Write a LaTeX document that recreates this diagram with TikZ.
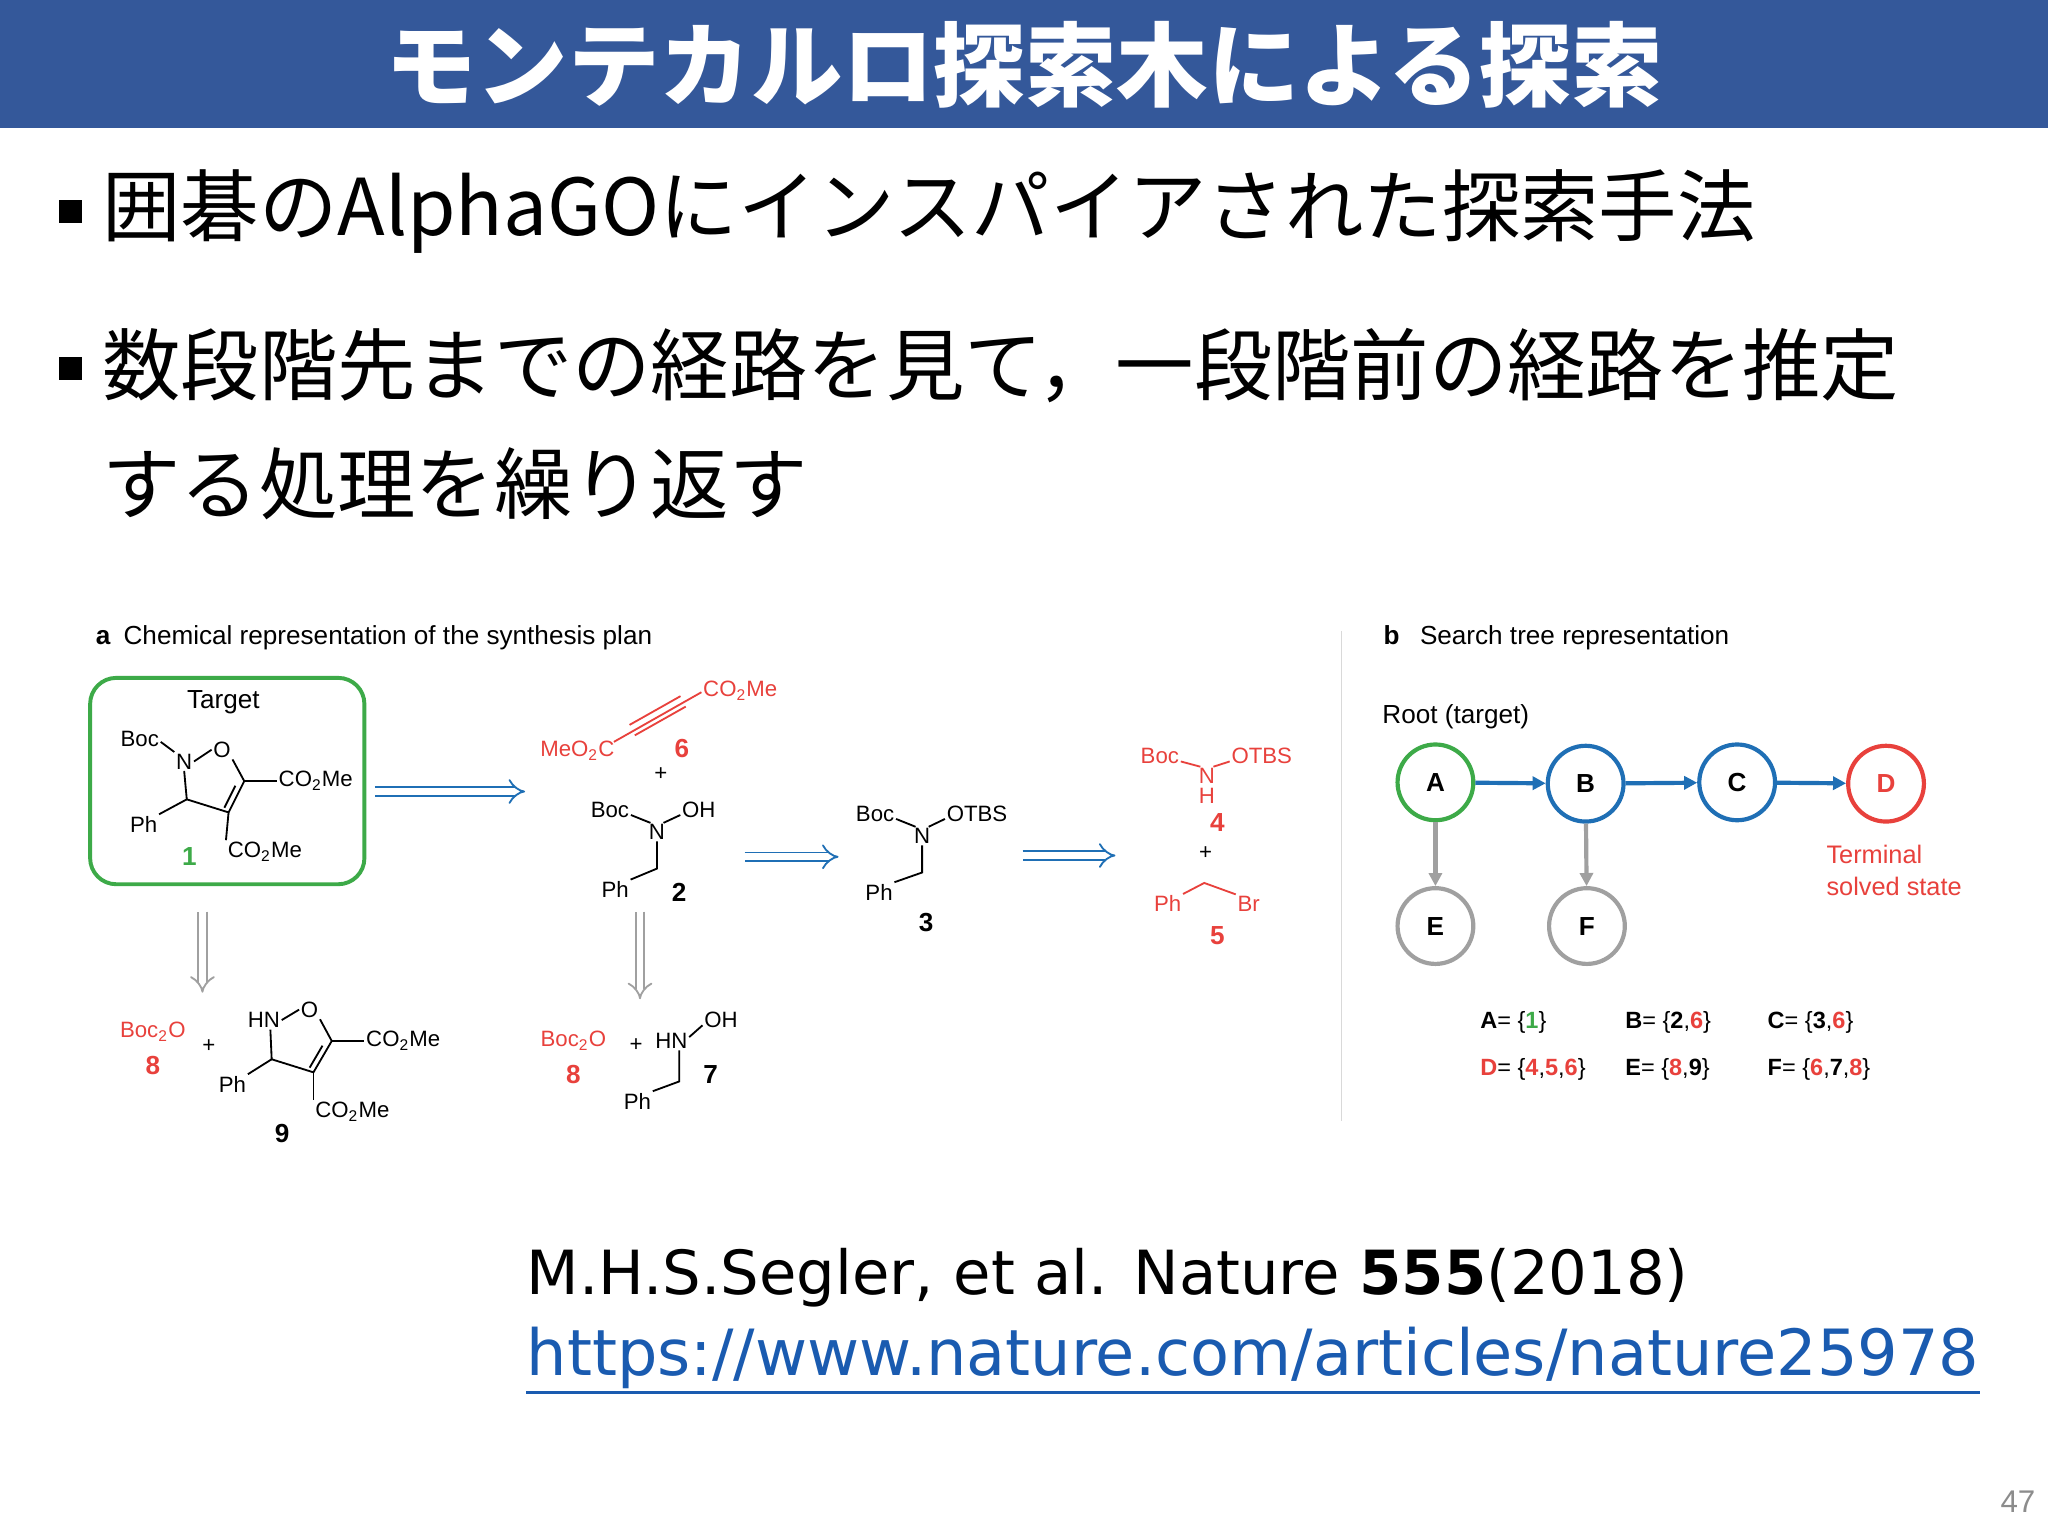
\documentclass[tikz,border=0pt]{standalone}
\usepackage{fontspec}
\setmainfont{Liberation Sans}
\newfontfamily\jp{Noto Sans CJK JP}
\newfontfamily\citefnt{DejaVu Sans}
\usetikzlibrary{arrows.meta,calc}
\definecolor{titleblue}{HTML}{34589A}
\definecolor{cred}{HTML}{E8413C}
\definecolor{cgreen}{HTML}{3DAA48}
\definecolor{cblue}{HTML}{1F6FB5}
\definecolor{cgray}{HTML}{A0A0A0}
\definecolor{urlblue}{HTML}{1A5BB0}
\tikzset{
  lbl/.style={inner sep=0.5pt, font=\fontsize{8.5}{9}\selectfont},
  biglbl/.style={inner sep=0pt, font=\fontsize{10}{11}\selectfont},
  num/.style={inner sep=0pt, font=\fontsize{10}{11}\selectfont\bfseries},
  bond/.style={line width=0.7pt},
  rbond/.style={line width=0.7pt, cred},
  retro/.style={double, double distance=2.6pt, line width=0.7pt, -{Implies[length=5pt]}},
  tnode/.style={circle, minimum size=29pt, line width=1.6pt, draw, font=\fontsize{10}{11}\selectfont\bfseries, inner sep=0pt},
  tarrow/.style={line width=1.6pt, -{Triangle[length=5pt,width=5pt]}},
  setlbl/.style={anchor=west, inner sep=0pt, font=\fontsize{9}{10}\selectfont},
  bullet/.style={anchor=west, inner sep=0pt, font=\jp\fontsize{30}{32}\selectfont},
  head/.style={anchor=west, inner sep=0pt, font=\fontsize{10}{11}\selectfont},
}
\begin{document}
\begin{tikzpicture}[x=0.5pt,y=-0.5pt]
\useasboundingbox (0,0) rectangle (1568,1176);
\fill[white] (0,0) rectangle (1568,1176);
% title
\fill[titleblue] (0,0) rectangle (1568,98);
\node[text=white, font=\jp\bfseries\fontsize{35}{37}\selectfont] (title) at (784,50) {モンテカルロ探索木による探索};
% bullets
\fill (45,153) rectangle (63,171);
\node[bullet] (b1) at (78,162) {囲碁のAlphaGOにインスパイアされた探索手法};
\fill (45,273) rectangle (63,291);
\node[bullet] (b2) at (78,280) {数段階先までの経路を見て，一段階前の経路を推定};
\node[bullet] (b3) at (78,370) {する処理を繰り返す};

% panel a
\node[head] (pa) at (73,488) {\textbf{a}\enspace Chemical representation of the synthesis plan};
\draw[cgreen, line width=1.5pt, rounded corners=10pt] (69,519) rectangle (279,677);
\node[biglbl] (tg) at (171,538) {Target};
% compound 1
\node[lbl] (boc1) at (107,566) {Boc};
\node[lbl] (n1) at (141,583) {N};
\node[lbl] (o1) at (170,574) {O};
\coordinate (c5a) at (187,598);
\coordinate (c4a) at (175,622);
\coordinate (c3a) at (143,612);
\draw[bond] (boc1.east) ++(0,2) -- (n1.north west);
\draw[bond] (n1.east) -- (o1.west);
\draw[bond] (o1.south east) -- (c5a) -- (c4a) -- (c3a) -- (n1.south);
\draw[bond] ($(c5a)!0.15!(c4a)+(-5,0)$) -- ($(c5a)!0.85!(c4a)+(-5,0)$);
\node[lbl, anchor=west] (e1) at (212,598) {CO\textsubscript{2}Me};
\draw[bond] (c5a) -- (e1.west);
\node[lbl, anchor=west] (e2) at (173,652) {CO\textsubscript{2}Me};
\draw[bond] (c4a) -- (e2.north west);
\node[lbl] (ph1) at (110,631) {Ph};
\draw[bond] (c3a) -- (ph1.north east);
\node[num, cgreen] (l1) at (145,656) {1};

% arrows
\coordinate (a1s) at (287,606); \coordinate (a1e) at (402,606);
\draw[retro, cblue] (a1s) -- (a1e);
\coordinate (a2s) at (570,656); \coordinate (a2e) at (642,656);
\draw[retro, cblue] (a2s) -- (a2e);
\coordinate (a3s) at (783,655); \coordinate (a3e) at (854,655);
\draw[retro, cblue] (a3s) -- (a3e);
\coordinate (g1s) at (155,698); \coordinate (g1e) at (155,760);
\draw[retro, cgray] (g1s) -- (g1e);
\coordinate (g2s) at (490,698); \coordinate (g2e) at (490,765);
\draw[retro, cgray] (g2s) -- (g2e);

% compound 6
\node[lbl, cred] (m6) at (442,575) {MeO\textsubscript{2}C};
\node[lbl, cred, anchor=west] (e6) at (537,529) {CO\textsubscript{2}Me};
\coordinate (t1) at (470,568); \coordinate (t2) at (484,559); \coordinate (t3) at (523,537); \coordinate (t4) at (537,530);
\draw[rbond] (t1) -- (t4);
\draw[rbond] ($(t2)+(-2,-4)$) -- ($(t3)+(-2,-4)$);
\draw[rbond] ($(t2)+(2,4)$) -- ($(t3)+(2,4)$);
\node[num, cred] (l6) at (522,573) {6};
\node[lbl] (p1) at (506,593) {+};
% compound 2
\node[lbl] (boc2) at (467,620) {Boc};
\node[lbl] (n2) at (503,637) {N};
\node[lbl] (oh2) at (535,620) {OH};
\draw[bond] ($(boc2.east)+(0,4)$) -- ($(n2.center)+(-5,-7)$);
\draw[bond] ($(n2.center)+(5,-7)$) -- ($(oh2.west)+(0,4)$);
\coordinate (ch2) at (503,665);
\node[lbl] (ph2) at (471,681) {Ph};
\draw[bond] (n2.south) -- (ch2) -- (ph2.north east);
\node[num] (l2) at (520,683) {2};
% compound 3
\node[lbl] (boc3) at (670,623) {Boc};
\node[lbl] (n3) at (706,640) {N};
\node[lbl] (ot3) at (748,623) {OTBS};
\draw[bond] ($(boc3.east)+(0,4)$) -- ($(n3.center)+(-5,-7)$);
\draw[bond] ($(n3.center)+(5,-7)$) -- ($(ot3.west)+(0,4)$);
\coordinate (ch3) at (706,668);
\node[lbl] (ph3) at (673,683) {Ph};
\draw[bond] (n3.south) -- (ch3) -- (ph3.north east);
\node[num] (l3) at (709,706) {3};
% compound 4,5
\node[lbl, cred] (boc4) at (888,579) {Boc};
\node[lbl, cred] (n4) at (924,594) {N};
\node[lbl, cred] (h4) at (924,609) {H};
\node[lbl, cred] (ot4) at (966,579) {OTBS};
\draw[rbond] ($(boc4.east)+(0,4)$) -- ($(n4.center)+(-5,-7)$);
\draw[rbond] ($(n4.center)+(5,-7)$) -- ($(ot4.west)+(0,4)$);
\node[num, cred] (l4) at (932,630) {4};
\node[lbl] (p2) at (923,653) {+};
\node[lbl, cred] (ph5) at (894,692) {Ph};
\node[lbl, cred] (br5) at (956,692) {Br};
\coordinate (ch5) at (922,676);
\draw[rbond] (ph5.north east) -- (ch5) -- (br5.north west);
\node[num, cred] (l5) at (932,716) {5};
% bottom left 8 + 9
\node[lbl, cred] (bo8) at (117,790) {Boc\textsubscript{2}O};
\node[num, cred] (l8) at (117,816) {8};
\node[lbl] (p3) at (160,801) {+};
\node[lbl] (hn9) at (202,781) {HN};
\node[lbl] (o9) at (237,773) {O};
\coordinate (c5b) at (254,797);
\coordinate (c4b) at (240,821);
\coordinate (c3b) at (208,811);
\draw[bond] (hn9.east) -- (o9.west);
\draw[bond] (o9.south east) -- (c5b) -- (c4b) -- (c3b) -- ($(hn9.south)+(5,0)$);
\draw[bond] ($(c5b)!0.15!(c4b)+(-5,0)$) -- ($(c5b)!0.85!(c4b)+(-5,0)$);
\node[lbl, anchor=west] (e9a) at (279,797) {CO\textsubscript{2}Me};
\draw[bond] (c5b) -- (e9a.west);
\node[lbl, anchor=west] (e9b) at (240,851) {CO\textsubscript{2}Me};
\draw[bond] (c4b) -- (e9b.north west);
\node[lbl] (ph9) at (178,830) {Ph};
\draw[bond] (c3b) -- (ph9.north east);
\node[num] (l9) at (216,868) {9};
% bottom mid 8 + 7
\node[lbl, cred] (bo8b) at (439,797) {Boc\textsubscript{2}O};
\node[num, cred] (l8b) at (439,823) {8};
\node[lbl] (p4) at (487,800) {+};
\node[lbl] (hn7) at (514,797) {HN};
\node[lbl] (oh7) at (552,781) {OH};
\draw[bond] ($(hn7.east)+(0,-3)$) -- ($(oh7.west)+(0,4)$);
\coordinate (ch7) at (520,828);
\node[lbl] (ph7) at (488,843) {Ph};
\draw[bond] ($(hn7.south)+(6,0)$) -- (ch7) -- (ph7.north east);
\node[num] (l7) at (544,823) {7};

% divider
\coordinate (dv1) at (1027,483); \coordinate (dv2) at (1027,858);
\draw[black!15, line width=0.6pt] (dv1) -- (dv2);

% panel b
\node[head] (pb) at (1059,488) {\textbf{b}\enspace\ Search tree representation};
\node[head] (root) at (1058,549) {Root (target)};
\node[tnode, cgreen] (A) at (1099,599) {\textcolor{black}{A}};
\node[tnode, cblue] (B) at (1214,600) {\textcolor{black}{B}};
\node[tnode, cblue] (C) at (1330,599) {\textcolor{black}{C}};
\node[tnode, cred] (D) at (1444,600) {D};
\node[tnode, cgray] (E) at (1099,709) {\textcolor{black}{E}};
\node[tnode, cgray] (F) at (1215,709) {\textcolor{black}{F}};
\draw[tarrow, cblue] (A) -- (B);
\draw[tarrow, cblue] (B) -- (C);
\draw[tarrow, cblue] (C) -- (D);
\draw[tarrow, cgray] (A) -- (E);
\draw[tarrow, cgray] (B) -- (F);
\node[anchor=north west, inner sep=0pt, align=left, text=cred, font=\fontsize{9.7}{12}\selectfont] (term) at (1398,647) {Terminal\\solved state};
\node[setlbl] (sA) at (1133,783) {\textbf{A}= \{\textbf{\textcolor{cgreen}{1}}\}};
\node[setlbl] (sB) at (1244,783) {\textbf{B}= \{\textbf{2},\textbf{\textcolor{cred}{6}}\}};
\node[setlbl] (sC) at (1353,783) {\textbf{C}= \{\textbf{3},\textbf{\textcolor{cred}{6}}\}};
\node[setlbl] (sD) at (1133,819) {\textbf{\textcolor{cred}{D}}= \{\textbf{\textcolor{cred}{4}},\textbf{\textcolor{cred}{5}},\textbf{\textcolor{cred}{6}}\}};
\node[setlbl] (sE) at (1244,819) {\textbf{E}= \{\textbf{\textcolor{cred}{8}},\textbf{9}\}};
\node[setlbl] (sF) at (1353,819) {\textbf{F}= \{\textbf{\textcolor{cred}{6}},\textbf{7},\textbf{\textcolor{cred}{8}}\}};

% citation
\node[anchor=west, inner sep=0pt, font=\citefnt\fontsize{23.3}{25}\selectfont] (ref1) at (403,978) {M.H.S.Segler, et al. Nature \textbf{555}(2018)};
\node[anchor=west, inner sep=0pt, text=urlblue, font=\citefnt\fontsize{24.4}{26}\selectfont] (ref2) at (403,1040) {https://www.nature.com/articles/nature25978};
\draw[urlblue, line width=1pt] ($(ref2.south west)+(0,2)$) -- ($(ref2.south east)+(0,2)$);
\node[text=black!45, font=\fontsize{12}{13}\selectfont] (pg) at (1545,1150) {47};
\end{tikzpicture}
\end{document}
